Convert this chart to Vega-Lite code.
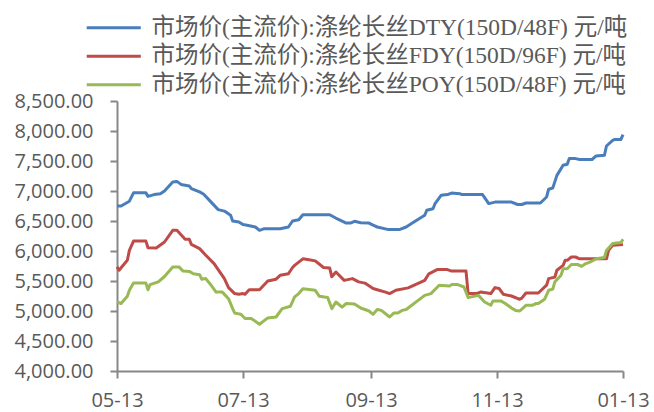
{
  "$schema": "https://vega.github.io/schema/vega-lite/v6.json",
  "width": 506,
  "height": 270,
  "autosize": {"type": "none"},
  "padding": {"left": 117, "top": 101, "right": 31, "bottom": 41},
  "background": "white",
  "config": {
    "view": {"stroke": null},
    "axis": {
      "grid": false,
      "domainColor": "#878787",
      "domainWidth": 2,
      "tickColor": "#878787",
      "tickWidth": 2,
      "tickSize": 7,
      "labelFont": "Open Sans",
      "labelFontSize": 20,
      "labelColor": "#595959",
      "title": null
    }
  },
  "data": {
    "values": [
      {"d":"2013/05/13","s":"DTY","v":6750},{"d":"2013/05/15","s":"DTY","v":6750},{"d":"2013/05/19","s":"DTY","v":6830},{"d":"2013/05/21","s":"DTY","v":6970},{"d":"2013/05/27","s":"DTY","v":6970},{"d":"2013/05/28","s":"DTY","v":6910},{"d":"2013/05/31","s":"DTY","v":6940},{"d":"2013/06/03","s":"DTY","v":6955},{"d":"2013/06/05","s":"DTY","v":7000},{"d":"2013/06/09","s":"DTY","v":7150},{"d":"2013/06/11","s":"DTY","v":7160},{"d":"2013/06/13","s":"DTY","v":7110},{"d":"2013/06/17","s":"DTY","v":7085},{"d":"2013/06/18","s":"DTY","v":7040},{"d":"2013/06/22","s":"DTY","v":6985},{"d":"2013/06/24","s":"DTY","v":6945},{"d":"2013/06/27","s":"DTY","v":6835},{"d":"2013/07/01","s":"DTY","v":6690},{"d":"2013/07/04","s":"DTY","v":6665},{"d":"2013/07/07","s":"DTY","v":6595},{"d":"2013/07/08","s":"DTY","v":6500},{"d":"2013/07/11","s":"DTY","v":6485},{"d":"2013/07/13","s":"DTY","v":6440},{"d":"2013/07/15","s":"DTY","v":6430},{"d":"2013/07/19","s":"DTY","v":6400},{"d":"2013/07/21","s":"DTY","v":6345},{"d":"2013/07/23","s":"DTY","v":6370},{"d":"2013/07/31","s":"DTY","v":6370},{"d":"2013/08/04","s":"DTY","v":6400},{"d":"2013/08/06","s":"DTY","v":6500},{"d":"2013/08/09","s":"DTY","v":6520},{"d":"2013/08/11","s":"DTY","v":6605},{"d":"2013/08/24","s":"DTY","v":6605},{"d":"2013/08/28","s":"DTY","v":6530},{"d":"2013/09/01","s":"DTY","v":6465},{"d":"2013/09/03","s":"DTY","v":6465},{"d":"2013/09/05","s":"DTY","v":6495},{"d":"2013/09/08","s":"DTY","v":6470},{"d":"2013/09/12","s":"DTY","v":6465},{"d":"2013/09/14","s":"DTY","v":6430},{"d":"2013/09/16","s":"DTY","v":6400},{"d":"2013/09/21","s":"DTY","v":6360},{"d":"2013/09/27","s":"DTY","v":6360},{"d":"2013/09/30","s":"DTY","v":6400},{"d":"2013/10/03","s":"DTY","v":6465},{"d":"2013/10/09","s":"DTY","v":6595},{"d":"2013/10/10","s":"DTY","v":6680},{"d":"2013/10/13","s":"DTY","v":6705},{"d":"2013/10/14","s":"DTY","v":6790},{"d":"2013/10/17","s":"DTY","v":6930},{"d":"2013/10/20","s":"DTY","v":6940},{"d":"2013/10/22","s":"DTY","v":6965},{"d":"2013/10/26","s":"DTY","v":6955},{"d":"2013/10/27","s":"DTY","v":6940},{"d":"2013/11/06","s":"DTY","v":6940},{"d":"2013/11/09","s":"DTY","v":6790},{"d":"2013/11/12","s":"DTY","v":6815},{"d":"2013/11/20","s":"DTY","v":6815},{"d":"2013/11/23","s":"DTY","v":6775},{"d":"2013/11/25","s":"DTY","v":6775},{"d":"2013/11/27","s":"DTY","v":6800},{"d":"2013/12/04","s":"DTY","v":6800},{"d":"2013/12/07","s":"DTY","v":6900},{"d":"2013/12/08","s":"DTY","v":7030},{"d":"2013/12/10","s":"DTY","v":7050},{"d":"2013/12/12","s":"DTY","v":7260},{"d":"2013/12/15","s":"DTY","v":7430},{"d":"2013/12/17","s":"DTY","v":7445},{"d":"2013/12/18","s":"DTY","v":7540},{"d":"2013/12/21","s":"DTY","v":7540},{"d":"2013/12/23","s":"DTY","v":7525},{"d":"2013/12/29","s":"DTY","v":7525},{"d":"2013/12/31","s":"DTY","v":7585},{"d":"2014/01/04","s":"DTY","v":7595},{"d":"2014/01/05","s":"DTY","v":7750},{"d":"2014/01/08","s":"DTY","v":7845},{"d":"2014/01/09","s":"DTY","v":7860},{"d":"2014/01/12","s":"DTY","v":7860},{"d":"2014/01/13","s":"DTY","v":7940},
      {"d":"2013/05/13","s":"FDY","v":5735},{"d":"2013/05/14","s":"FDY","v":5680},{"d":"2013/05/18","s":"FDY","v":5845},{"d":"2013/05/19","s":"FDY","v":6010},{"d":"2013/05/21","s":"FDY","v":6165},{"d":"2013/05/27","s":"FDY","v":6165},{"d":"2013/05/28","s":"FDY","v":6055},{"d":"2013/06/01","s":"FDY","v":6050},{"d":"2013/06/05","s":"FDY","v":6150},{"d":"2013/06/09","s":"FDY","v":6345},{"d":"2013/06/11","s":"FDY","v":6345},{"d":"2013/06/15","s":"FDY","v":6195},{"d":"2013/06/17","s":"FDY","v":6195},{"d":"2013/06/18","s":"FDY","v":6110},{"d":"2013/06/22","s":"FDY","v":6040},{"d":"2013/06/25","s":"FDY","v":5930},{"d":"2013/06/29","s":"FDY","v":5790},{"d":"2013/07/01","s":"FDY","v":5690},{"d":"2013/07/04","s":"FDY","v":5540},{"d":"2013/07/06","s":"FDY","v":5390},{"d":"2013/07/09","s":"FDY","v":5290},{"d":"2013/07/11","s":"FDY","v":5280},{"d":"2013/07/13","s":"FDY","v":5290},{"d":"2013/07/14","s":"FDY","v":5280},{"d":"2013/07/16","s":"FDY","v":5355},{"d":"2013/07/21","s":"FDY","v":5355},{"d":"2013/07/25","s":"FDY","v":5500},{"d":"2013/07/29","s":"FDY","v":5530},{"d":"2013/07/31","s":"FDY","v":5595},{"d":"2013/08/04","s":"FDY","v":5620},{"d":"2013/08/06","s":"FDY","v":5725},{"d":"2013/08/07","s":"FDY","v":5760},{"d":"2013/08/11","s":"FDY","v":5870},{"d":"2013/08/14","s":"FDY","v":5855},{"d":"2013/08/17","s":"FDY","v":5835},{"d":"2013/08/21","s":"FDY","v":5725},{"d":"2013/08/24","s":"FDY","v":5715},{"d":"2013/08/25","s":"FDY","v":5570},{"d":"2013/08/27","s":"FDY","v":5650},{"d":"2013/08/31","s":"FDY","v":5510},{"d":"2013/09/04","s":"FDY","v":5540},{"d":"2013/09/07","s":"FDY","v":5485},{"d":"2013/09/10","s":"FDY","v":5465},{"d":"2013/09/14","s":"FDY","v":5375},{"d":"2013/09/16","s":"FDY","v":5355},{"d":"2013/09/20","s":"FDY","v":5315},{"d":"2013/09/22","s":"FDY","v":5290},{"d":"2013/09/25","s":"FDY","v":5345},{"d":"2013/10/01","s":"FDY","v":5385},{"d":"2013/10/09","s":"FDY","v":5510},{"d":"2013/10/11","s":"FDY","v":5620},{"d":"2013/10/15","s":"FDY","v":5690},{"d":"2013/10/20","s":"FDY","v":5690},{"d":"2013/10/22","s":"FDY","v":5665},{"d":"2013/10/29","s":"FDY","v":5665},{"d":"2013/10/30","s":"FDY","v":5290},{"d":"2013/11/03","s":"FDY","v":5290},{"d":"2013/11/05","s":"FDY","v":5315},{"d":"2013/11/10","s":"FDY","v":5290},{"d":"2013/11/12","s":"FDY","v":5390},{"d":"2013/11/14","s":"FDY","v":5375},{"d":"2013/11/16","s":"FDY","v":5280},{"d":"2013/11/20","s":"FDY","v":5250},{"d":"2013/11/24","s":"FDY","v":5195},{"d":"2013/11/25","s":"FDY","v":5215},{"d":"2013/11/27","s":"FDY","v":5300},{"d":"2013/12/03","s":"FDY","v":5300},{"d":"2013/12/07","s":"FDY","v":5430},{"d":"2013/12/08","s":"FDY","v":5540},{"d":"2013/12/11","s":"FDY","v":5565},{"d":"2013/12/12","s":"FDY","v":5680},{"d":"2013/12/15","s":"FDY","v":5760},{"d":"2013/12/16","s":"FDY","v":5845},{"d":"2013/12/17","s":"FDY","v":5845},{"d":"2013/12/19","s":"FDY","v":5900},{"d":"2013/12/21","s":"FDY","v":5900},{"d":"2013/12/23","s":"FDY","v":5870},{"d":"2014/01/05","s":"FDY","v":5870},{"d":"2014/01/06","s":"FDY","v":6010},{"d":"2014/01/08","s":"FDY","v":6095},{"d":"2014/01/13","s":"FDY","v":6110},
      {"d":"2013/05/13","s":"POY","v":5150},{"d":"2013/05/15","s":"POY","v":5125},{"d":"2013/05/18","s":"POY","v":5245},{"d":"2013/05/19","s":"POY","v":5345},{"d":"2013/05/21","s":"POY","v":5465},{"d":"2013/05/27","s":"POY","v":5465},{"d":"2013/05/28","s":"POY","v":5355},{"d":"2013/05/29","s":"POY","v":5440},{"d":"2013/06/02","s":"POY","v":5485},{"d":"2013/06/05","s":"POY","v":5575},{"d":"2013/06/09","s":"POY","v":5735},{"d":"2013/06/12","s":"POY","v":5735},{"d":"2013/06/14","s":"POY","v":5665},{"d":"2013/06/17","s":"POY","v":5660},{"d":"2013/06/19","s":"POY","v":5620},{"d":"2013/06/22","s":"POY","v":5605},{"d":"2013/06/23","s":"POY","v":5530},{"d":"2013/06/25","s":"POY","v":5540},{"d":"2013/06/27","s":"POY","v":5455},{"d":"2013/06/30","s":"POY","v":5315},{"d":"2013/07/03","s":"POY","v":5315},{"d":"2013/07/06","s":"POY","v":5205},{"d":"2013/07/08","s":"POY","v":5040},{"d":"2013/07/09","s":"POY","v":4965},{"d":"2013/07/12","s":"POY","v":4945},{"d":"2013/07/14","s":"POY","v":4875},{"d":"2013/07/17","s":"POY","v":4875},{"d":"2013/07/21","s":"POY","v":4780},{"d":"2013/07/25","s":"POY","v":4885},{"d":"2013/07/29","s":"POY","v":4900},{"d":"2013/08/01","s":"POY","v":5040},{"d":"2013/08/05","s":"POY","v":5080},{"d":"2013/08/07","s":"POY","v":5235},{"d":"2013/08/09","s":"POY","v":5290},{"d":"2013/08/11","s":"POY","v":5370},{"d":"2013/08/15","s":"POY","v":5355},{"d":"2013/08/17","s":"POY","v":5345},{"d":"2013/08/19","s":"POY","v":5245},{"d":"2013/08/23","s":"POY","v":5225},{"d":"2013/08/25","s":"POY","v":5040},{"d":"2013/08/27","s":"POY","v":5150},{"d":"2013/08/30","s":"POY","v":5065},{"d":"2013/09/01","s":"POY","v":5125},{"d":"2013/09/05","s":"POY","v":5115},{"d":"2013/09/08","s":"POY","v":5050},{"d":"2013/09/12","s":"POY","v":5000},{"d":"2013/09/14","s":"POY","v":4945},{"d":"2013/09/16","s":"POY","v":5025},{"d":"2013/09/18","s":"POY","v":5010},{"d":"2013/09/22","s":"POY","v":4900},{"d":"2013/09/24","s":"POY","v":4965},{"d":"2013/09/26","s":"POY","v":4965},{"d":"2013/09/28","s":"POY","v":5010},{"d":"2013/09/30","s":"POY","v":5025},{"d":"2013/10/09","s":"POY","v":5260},{"d":"2013/10/12","s":"POY","v":5290},{"d":"2013/10/16","s":"POY","v":5430},{"d":"2013/10/21","s":"POY","v":5415},{"d":"2013/10/22","s":"POY","v":5440},{"d":"2013/10/25","s":"POY","v":5440},{"d":"2013/10/28","s":"POY","v":5400},{"d":"2013/10/30","s":"POY","v":5225},{"d":"2013/11/04","s":"POY","v":5260},{"d":"2013/11/07","s":"POY","v":5150},{"d":"2013/11/10","s":"POY","v":5095},{"d":"2013/11/11","s":"POY","v":5165},{"d":"2013/11/15","s":"POY","v":5165},{"d":"2013/11/17","s":"POY","v":5125},{"d":"2013/11/20","s":"POY","v":5050},{"d":"2013/11/22","s":"POY","v":5010},{"d":"2013/11/24","s":"POY","v":5000},{"d":"2013/11/27","s":"POY","v":5095},{"d":"2013/11/30","s":"POY","v":5095},{"d":"2013/12/02","s":"POY","v":5125},{"d":"2013/12/03","s":"POY","v":5125},{"d":"2013/12/06","s":"POY","v":5195},{"d":"2013/12/08","s":"POY","v":5345},{"d":"2013/12/10","s":"POY","v":5365},{"d":"2013/12/11","s":"POY","v":5485},{"d":"2013/12/14","s":"POY","v":5595},{"d":"2013/12/15","s":"POY","v":5705},{"d":"2013/12/17","s":"POY","v":5705},{"d":"2013/12/19","s":"POY","v":5775},{"d":"2013/12/22","s":"POY","v":5775},{"d":"2013/12/24","s":"POY","v":5745},{"d":"2013/12/26","s":"POY","v":5790},{"d":"2013/12/28","s":"POY","v":5815},{"d":"2013/12/31","s":"POY","v":5870},{"d":"2014/01/04","s":"POY","v":5890},{"d":"2014/01/05","s":"POY","v":6010},{"d":"2014/01/08","s":"POY","v":6125},{"d":"2014/01/12","s":"POY","v":6140},{"d":"2014/01/13","s":"POY","v":6195}
    ]
  },
  "mark": {"type": "line", "strokeWidth": 3, "strokeJoin": "round", "strokeCap": "butt"},
  "encoding": {
    "x": {
      "field": "d",
      "type": "temporal",
      "scale": {"domain": [{"year": 2013, "month": 5, "date": 13}, {"year": 2014, "month": 1, "date": 13}], "nice": false},
      "axis": {
        "values": [
          {"year": 2013, "month": 5, "date": 13},
          {"year": 2013, "month": 7, "date": 13},
          {"year": 2013, "month": 9, "date": 13},
          {"year": 2013, "month": 11, "date": 13},
          {"year": 2014, "month": 1, "date": 13}
        ],
        "format": "%m-%d",
        "labelPadding": 12,
        "labelFlush": false,
        "labelOverlap": false
      }
    },
    "y": {
      "field": "v",
      "type": "quantitative",
      "scale": {"domain": [4000, 8500], "nice": false, "zero": false},
      "axis": {
        "values": [4000, 4500, 5000, 5500, 6000, 6500, 7000, 7500, 8000, 8500],
        "format": ",.2f",
        "labelPadding": 17
      }
    },
    "color": {
      "field": "s",
      "type": "nominal",
      "scale": {"domain": ["DTY", "FDY", "POY"], "range": ["#4A7EBB", "#BE4B48", "#98B954"]},
      "legend": {
        "title": null,
        "orient": "none",
        "legendX": -15,
        "legendY": -85,
        "direction": "vertical",
        "symbolType": "M-5,0H5",
        "symbolSize": 117,
        "symbolStrokeWidth": 3,
        "labelFont": "Liberation Serif, Noto Sans CJK SC",
        "labelFontSize": 23.5,
        "labelColor": "#595959",
        "labelLimit": 700,
        "labelOffset": 26,
        "rowPadding": 3.5,
        "labelExpr": "datum.label == 'DTY' ? '市场价(主流价):涤纶长丝DTY(150D/48F) 元/吨' : datum.label == 'FDY' ? '市场价(主流价):涤纶长丝FDY(150D/96F) 元/吨' : '市场价(主流价):涤纶长丝POY(150D/48F) 元/吨'"
      }
    }
  }
}
